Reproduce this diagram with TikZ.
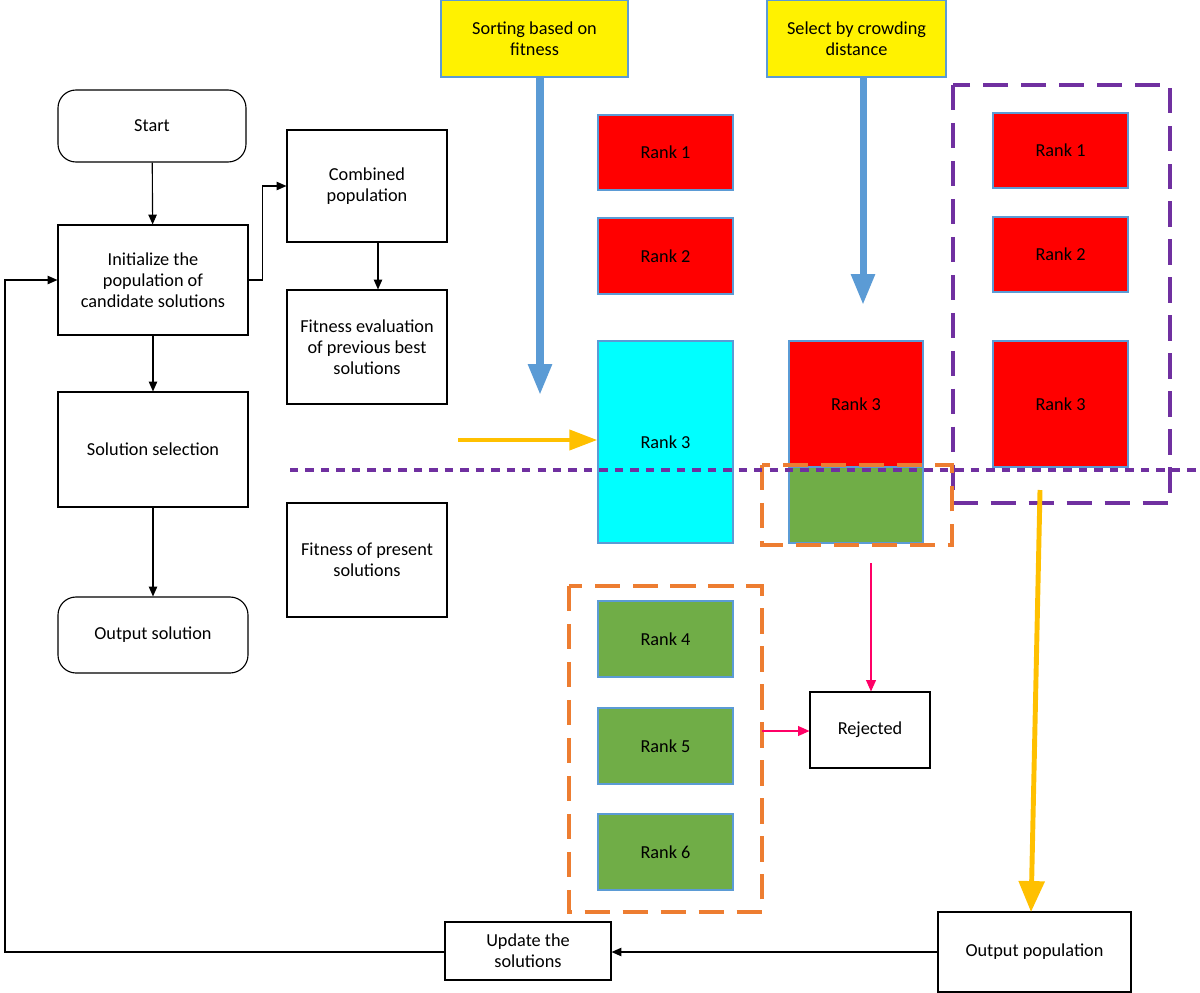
\documentclass[tikz,border=0pt]{standalone}
\usepackage{fontspec}
\setmainfont{Carlito}
\usetikzlibrary{arrows.meta}
\definecolor{rnk}{RGB}{255,0,0}
\definecolor{grn}{RGB}{112,173,71}
\definecolor{cyn}{RGB}{0,255,255}
\definecolor{bedge}{RGB}{91,155,213}
\definecolor{org}{RGB}{237,125,49}
\definecolor{gold}{RGB}{255,192,0}
\definecolor{prp}{RGB}{112,48,160}
\definecolor{pnk}{RGB}{255,0,102}
\begin{document}
\begin{tikzpicture}[x=0.025cm,y=-0.025cm,font=\fontsize{13}{15}\selectfont,
  box/.style={draw,thick,align=center,inner sep=0pt},
  term/.style={box,rounded corners=0.45cm},
  rk/.style={draw=bedge,thick,fill=rnk,inner sep=0pt},
  flow/.style={thick,-{Triangle[length=7pt,width=6pt]}},
  big/.style={line width=5pt,-{Triangle[length=22pt,width=16pt]}},
  pk/.style={pnk,thick,-{Triangle[length=8pt,width=7pt]}}]
\useasboundingbox (0,0) rectangle (1200,992);
\def\bx#1#2#3#4#5#6{\node[#6,minimum width=(#3-#1)*0.025cm,minimum height=(#4-#2)*0.025cm] (#5) at ({(#1+#3)/2},{(#2+#4)/2})}
% flow chart
\bx{58}{90}{246}{162}{start}{term} {Start};
\bx{58}{225}{248}{335}{init}{box} {Initialize the\\population of\\candidate solutions};
\bx{58}{392}{248}{507}{sel}{box} {Solution selection};
\bx{58}{597}{248}{673}{out}{term} {Output solution};
\draw[flow] (start) -- (init);
\draw[flow] (init) -- (sel);
\draw[flow] (sel) -- (out);
\bx{287}{130}{447}{242}{comb}{box} {Combined\\population};
\bx{287}{290}{447}{404}{feval}{box} {Fitness evaluation\\of previous best\\solutions};
\bx{287}{503}{447}{617}{fpres}{box} {Fitness  of present\\solutions};
\draw[flow] (init.east) -- ++(14,0) |- (comb.west);
\draw[flow] (comb.south -| 378,0) -- (feval.north -| 378,0);
% top labels
\bx{441}{0}{628}{77}{sort}{draw=bedge,thick,fill=yellow,align=center,inner sep=0pt} {Sorting based on\\fitness};
\bx{767}{0}{946}{77}{crowd}{draw=bedge,thick,fill=yellow,align=center,inner sep=0pt} {Select by crowding\\distance};
\coordinate (sortend) at (540,395);
\coordinate (crowdend) at (863,305);
\draw[big,bedge] (sort.south -| sortend) -- (sortend);
\draw[big,bedge] (crowd.south -| crowdend) -- (crowdend);
% ranks
\bx{598}{115}{733}{190}{a1}{rk} {Rank 1};
\bx{598}{218}{733}{294}{a2}{rk} {Rank 2};
\bx{598}{341}{733}{543}{a3}{rk,fill=cyn} {Rank 3};
\bx{789}{341}{923}{467}{b3}{rk} {Rank 3};
\bx{789}{467}{923}{543}{b4}{rk,fill=grn} {};
\bx{993}{113}{1128}{188}{c1}{rk} {Rank 1};
\bx{993}{217}{1128}{292}{c2}{rk} {Rank 2};
\bx{993}{341}{1128}{467}{c3}{rk} {Rank 3};
\bx{598}{601}{733}{677}{r4}{rk,fill=grn} {Rank 4};
\bx{598}{708}{733}{784}{r5}{rk,fill=grn} {Rank 5};
\bx{598}{814}{733}{890}{r6}{rk,fill=grn} {Rank 6};
% dashed groups
\draw[prp,line width=3pt,dash pattern=on 18pt off 9pt] (953,85) rectangle (1170,503);
\draw[org,line width=3pt,dash pattern=on 18pt off 9pt] (762,465) rectangle (952,545);
\draw[org,line width=3pt,dash pattern=on 18pt off 9pt] (569,586) rectangle (762,912);
\draw[prp,line width=3.5pt,dash pattern=on 6pt off 5pt] (290,470) -- (1200,470);
% other
\coordinate (oin) at (458,440);
\draw[line width=3.5pt,gold,-{Triangle[length=20pt,width=14pt]}] (oin) -- (a3.west |- oin);
\bx{810}{692}{930}{768}{rej}{box} {Rejected};
\coordinate (rg) at (762,731);
\coordinate (rt) at (871,563);
\draw[pk] (rg) -- (rej.west |- rg);
\draw[pk] (rt) -- (rej.north -| rt);
\bx{938}{912}{1131}{992}{opop}{box} {Output population};
\bx{445}{922}{611}{980}{upd}{box} {Update the\\solutions};
\coordinate (gs) at (1040,490);
\draw[line width=3.5pt,gold,-{Triangle[length=22pt,width=18pt]}] (gs) -- (1031,912);
\draw[flow] (opop.west |- 0,952) -- (upd.east |- 0,952);
\draw[flow] (upd.west |- 0,952) -- (5,952) |- (init.west |- 0,280);
\end{tikzpicture}
\end{document}
